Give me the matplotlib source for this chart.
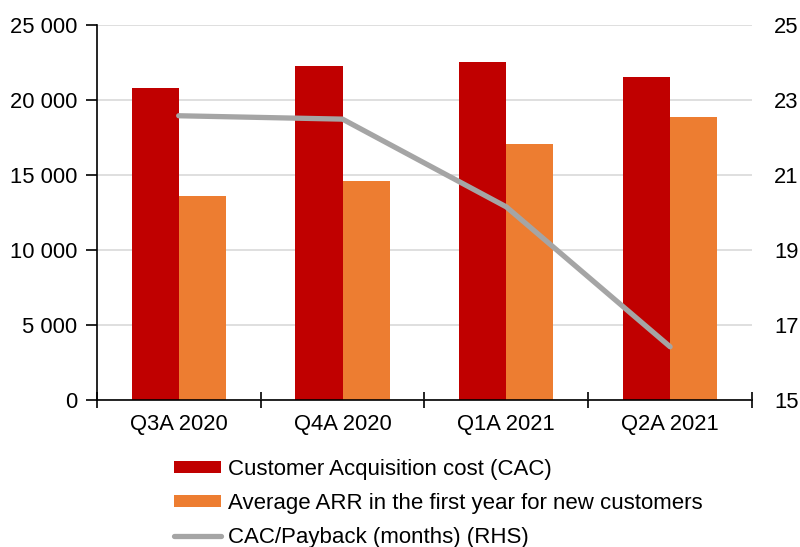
import matplotlib.pyplot as plt
import numpy as np
from matplotlib.ticker import FuncFormatter, FixedLocator

plt.rcParams['font.family'] = ['Liberation Sans', 'DejaVu Sans']

quarters = ["Q3A 2020", "Q4A 2020", "Q1A 2021", "Q2A 2021"]
cac = [20820, 22300, 22530, 21550]
arr_first_year = [13620, 14600, 17050, 18870]
payback_months = [22.58, 22.49, 20.15, 16.42]

red = "#C00000"
orange = "#ED7D31"
grey = "#A5A5A5"
fs = 15.8
legend_fs = 16

fig = plt.figure(figsize=(8, 5.47), dpi=100)
ax = fig.add_axes([0.121, 0.2687, 0.819, 0.6856])
ax2 = ax.twinx()

x = np.arange(len(quarters))
w = 0.287
b1 = ax.bar(x - w / 2, cac, w, color=red, label="Customer Acquisition cost (CAC)", zorder=2)
b2 = ax.bar(x + w / 2, arr_first_year, w, color=orange,
            label="Average ARR in the first year for new customers", zorder=2)
ln, = ax2.plot(x, payback_months, color=grey, lw=3.8, solid_capstyle="round",
               label="CAC/Payback (months) (RHS)")

ax.set_xlim(-0.5, len(quarters) - 0.5)
ax.set_ylim(0, 25000)
ax.set_yticks(np.arange(0, 25001, 5000))
ax.yaxis.set_major_formatter(FuncFormatter(lambda v, p: f"{int(v):,}".replace(",", " ")))
ax.grid(axis="y", color="#D9D9D9", lw=1.2, zorder=0)
ax.set_axisbelow(True)

ax2.set_ylim(15, 25)
ax2.set_yticks(np.arange(15, 25.1, 2))
ax2.yaxis.set_major_formatter(FuncFormatter(lambda v, p: f"{int(v)}"))

# quarter labels in the middle, ticks on the group boundaries
ax.xaxis.set_major_locator(FixedLocator(np.arange(-0.5, len(quarters), 1.0)))
ax.xaxis.set_minor_locator(FixedLocator(x))
ax.set_xticklabels([])
ax.set_xticklabels(quarters, minor=True)
ax.tick_params(axis="x", which="major", direction="inout", length=12, width=1.2)
ax.tick_params(axis="x", which="minor", length=0, pad=10, labelsize=fs)
ax.tick_params(axis="y", direction="out", length=8, width=1.2, labelsize=fs, pad=6)
ax2.tick_params(axis="y", length=0, labelsize=fs, pad=16)

for a in (ax, ax2):
    a.spines["top"].set_visible(False)
    a.spines["right"].set_visible(False)
ax2.spines["left"].set_visible(False)
ax2.spines["bottom"].set_visible(False)
ax.spines["left"].set_linewidth(1.2)
ax.spines["bottom"].set_linewidth(1.2)

fig.legend(handles=[b1, b2, ln], loc="upper left", bbox_to_anchor=(0.206, 0.178),
           frameon=False, fontsize=legend_fs, handlelength=2.15, handleheight=0.45,
           handletextpad=0.3, labelspacing=0.6, borderaxespad=0)

fig.savefig("out.png", dpi=100)
